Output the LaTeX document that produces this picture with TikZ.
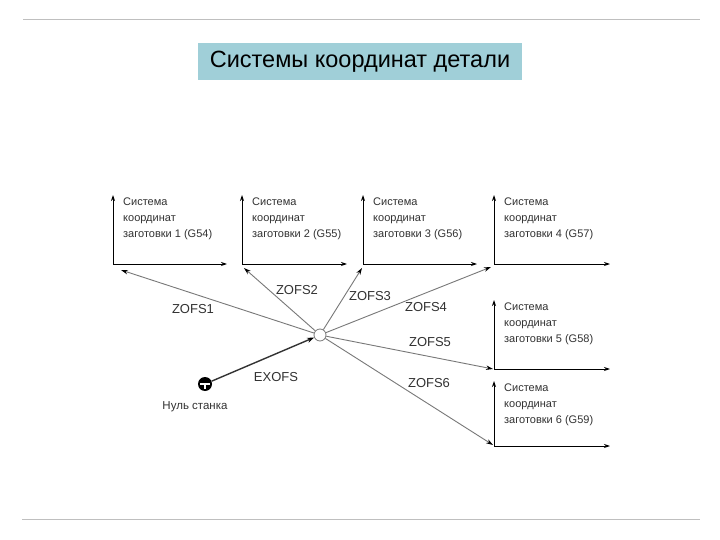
\documentclass[tikz,border=0pt]{standalone}
\usepackage{fontspec}
\setmainfont{Liberation Sans}
\usetikzlibrary{arrows.meta}
\definecolor{titlebg}{RGB}{160,207,216}
\definecolor{linegray}{RGB}{120,120,120}
\definecolor{txtgray}{RGB}{50,50,50}
\begin{document}
\begin{tikzpicture}[x=1pt,y=-1pt,
  axis/.style={draw=black,line width=0.9pt,-{Stealth[length=6pt,width=4pt]}},
  ofs/.style={draw=linegray,line width=0.9pt,-{Stealth[length=7pt,width=4.5pt,black]}},
  exofs/.style={draw=black!80,line width=1.4pt,-{Stealth[length=7pt,width=5pt,black]}},
  cslabel/.style={anchor=north west,align=left,font=\fontsize{11}{16}\selectfont,text=txtgray,inner sep=0pt},
  ofslabel/.style={font=\fontsize{13}{15}\selectfont,text=txtgray,inner sep=1pt},
  frame/.style={draw=black!25,line width=1pt}]
\useasboundingbox (0,0) rectangle (720,540);
\fill[white] (0,0) rectangle (720,540);
% frame lines
\coordinate (tl) at (23,20); \coordinate (tr) at (700,20);
\coordinate (bl) at (22,519); \coordinate (br) at (700,519);
\draw[frame] (tl) -- (tr);
\draw[frame] (bl) -- (br);
% title
\node[fill=titlebg,minimum width=324pt,minimum height=37pt,inner sep=0pt,
  font=\fontsize{23.5}{26}\selectfont,text=black] (title) at (360,62) {Системы координат детали};
% coordinate systems
\foreach \n/\x/\y/\xe/\yt/\lab in {1/113/264/227/195/{заготовки 1 (G54)},
                                  2/242/264/347/195/{заготовки 2 (G55)},
                                  3/363/264/477/195/{заготовки 3 (G56)},
                                  4/494/264/610/195/{заготовки 4 (G57)},
                                  5/494/369/610/300/{заготовки 5 (G58)},
                                  6/494/446/610/381/{заготовки 6 (G59)}}{
  \coordinate (o\n) at (\x,\y);
  \coordinate (ox\n) at (\xe,\y);
  \coordinate (oy\n) at (\x,\yt);
  \draw[axis] (o\n) -- (oy\n);
  \draw[axis] (o\n) -- (ox\n);
  \node[cslabel] (l\n) at (\x+10,\yt+3) {Система\\координат\\\lab};
}
% center and machine zero
\node[circle,draw=linegray,fill=white,line width=0.8pt,minimum size=12pt,inner sep=0pt] (c) at (320,335) {};
\node[circle,fill=black,minimum size=14pt,inner sep=0pt] (m) at (205,384) {};
\draw[white,line width=1.3pt] ([xshift=-5pt]m.center) -- ([xshift=5pt]m.center);
\draw[white,line width=1.3pt] (m.center) -- ([yshift=-5pt]m.center);
\node[font=\fontsize{11.5}{13}\selectfont,text=txtgray] (mlab) at (195,407) {Нуль станка};
% arrow targets
\coordinate (t1) at (121,270);
\coordinate (t2) at (244,268);
\coordinate (t3) at (362,268);
\coordinate (t4) at (491,267);
\coordinate (t5) at (493,369);
\coordinate (t6) at (493,445);
\foreach \i in {1,...,6}{\draw[ofs] (c) -- (t\i);}
\draw[exofs] (m) -- (c);
% labels
\node[ofslabel] (z1) at (193,309) {ZOFS1};
\node[ofslabel] (z2) at (297,290) {ZOFS2};
\node[ofslabel] (z3) at (370,296) {ZOFS3};
\node[ofslabel] (z4) at (426,307) {ZOFS4};
\node[ofslabel] (z5) at (430,342) {ZOFS5};
\node[ofslabel] (z6) at (429,383) {ZOFS6};
\node[ofslabel] (ex) at (276,377) {EXOFS};
\end{tikzpicture}
\end{document}
